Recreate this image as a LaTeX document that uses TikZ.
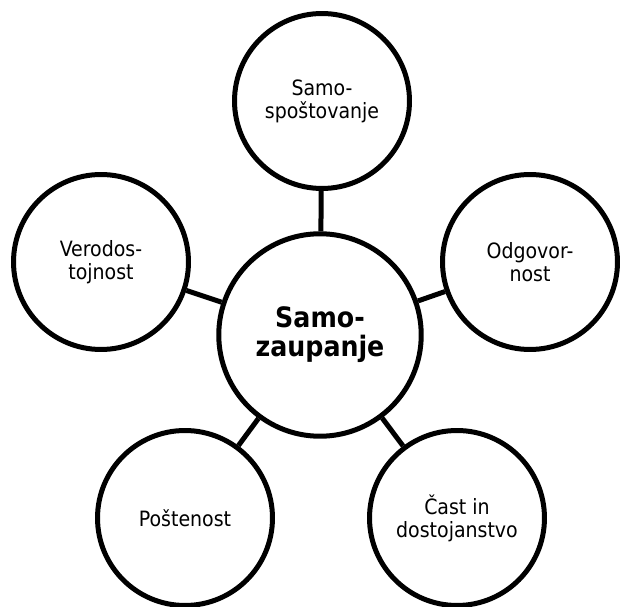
\documentclass[tikz,border=0pt]{standalone}
\usepackage{fontspec}
\setmainfont{DejaVu Sans Condensed}
\tikzset{
  vrednota/.style={circle, draw, line width=0.1cm, minimum size=3.5cm, inner sep=0pt, align=center, font=\fontsize{12}{13}\selectfont},
  jedro/.style={circle, draw, line width=0.1cm, minimum size=4.05cm, inner sep=0pt, align=center, font=\fontsize{16}{16.5}\selectfont\bfseries},
  vez/.style={line width=0.1cm}
}
\begin{document}
\begin{tikzpicture}[x=0.02cm, y=-0.02cm]
        \useasboundingbox (0,0) rectangle (622,607);

        % Sredina
        \node[jedro] (samozaupanje) at (320,335) {Samo-\\zaupanje};

        % Okoli
        \node[vrednota] (spostovanje) at (322,101) {Samo-\\spoštovanje};
        \node[vrednota] (odgovornost) at (530,262) {Odgovor-\\nost};
        \node[vrednota] (cast) at (457,518) {Čast in\\dostojanstvo};
        \node[vrednota] (postenost) at (185,518) {Poštenost};
        \node[vrednota] (verodostojnost) at (101,262) {Verodos-\\tojnost};

        % Povezave
        \foreach \n in {spostovanje, odgovornost, cast, postenost, verodostojnost}
            \draw[vez] (samozaupanje) -- (\n);
\end{tikzpicture}
\end{document}
